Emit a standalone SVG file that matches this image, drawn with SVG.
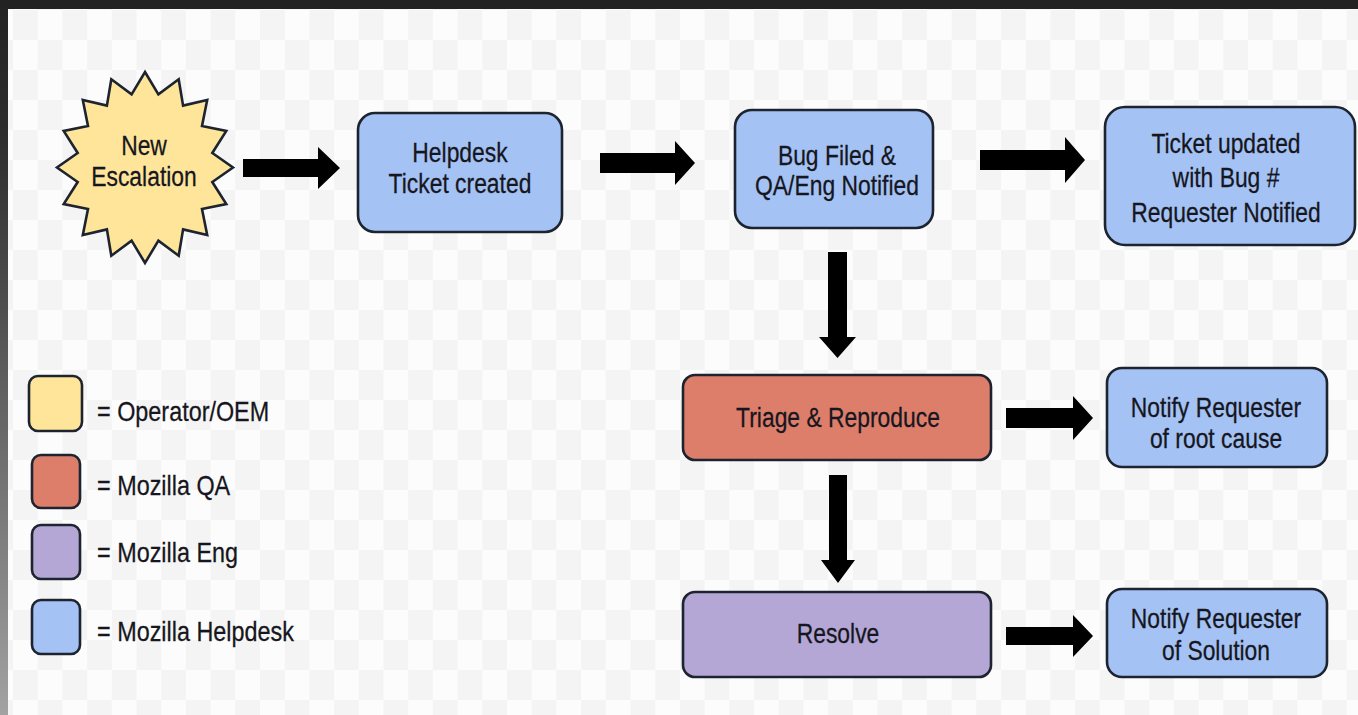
<svg xmlns="http://www.w3.org/2000/svg" width="1358" height="715" viewBox="0 0 1358 715">
<defs>
<pattern id="checker" patternUnits="userSpaceOnUse" x="13" y="10" width="49.4" height="60">
<rect width="49.4" height="60" fill="#fcfcfc"/>
<rect width="24.7" height="30" fill="#f4f4f4"/>
<rect x="24.7" y="30" width="24.7" height="30" fill="#f4f4f4"/>
</pattern>
<linearGradient id="leftEdge" x1="0" y1="0" x2="0" y2="1">
<stop offset="0" stop-color="#222222"/>
<stop offset="0.2" stop-color="#2e2e2e"/>
<stop offset="1" stop-color="#a2a2a2"/>
</linearGradient>
</defs>
<style>
.box{stroke:#1d2430;stroke-width:2.6}
.blue{fill:#a4c2f4}
.yellow{fill:#ffe599}
.red{fill:#dd7e6b}
.purple{fill:#b4a7d6}
.arrow{fill:#000000}
text{font-family:"Liberation Sans",Arial,Helvetica,sans-serif;font-size:26px;fill:#161620;stroke:#161620;stroke-width:0.25}
.c{text-anchor:middle}
</style>
<rect width="1358" height="715" fill="url(#checker)"/>
<rect width="1358" height="9" fill="#222222"/>
<rect y="0" width="8" height="715" fill="url(#leftEdge)"/>

<g id="connectors">
<polygon class="arrow" points="243,159 318,159 318,147 340,168 318,189 318,177 243,177"/>
<polygon class="arrow" points="600,153 675,153 675,141 695,163 675,185 675,173 600,173"/>
<polygon class="arrow" points="980,150 1065,150 1065,137 1085,160 1065,183 1065,170 980,170"/>
<polygon class="arrow" points="828,252 847,252 847,337 856,337 837.5,358 819,337 828,337"/>
<polygon class="arrow" points="829,475 847,475 847,560 855,560 838,583 821,560 829,560"/>
<polygon class="arrow" points="1006,408 1073,408 1073,396 1093,418 1073,440 1073,428 1006,428"/>
<polygon class="arrow" points="1006,627 1073,627 1073,615 1093,636 1073,657 1073,645 1006,645"/>
</g>

<g id="new-escalation">
<polygon class="box yellow" stroke-linejoin="miter" points="145,72 158.4,94.4 178.7,79.3 183.1,105.6 207.2,100 202,126.1 226.3,131 212.3,153 233,167.5 212.3,182 226.3,204 202,208.9 207.2,235 183.1,229.4 178.7,255.7 158.4,240.6 145,263 131.6,240.6 111.3,255.7 106.9,229.4 82.8,235 88,208.9 63.7,204 77.7,182 57,167.5 77.7,153 63.7,131 88,126.1 82.8,100 106.9,105.6 111.3,79.3 131.6,94.4"/>
<text class="c" transform="translate(144 155) scale(0.88 1.05)"><tspan x="0">New</tspan><tspan x="0" dy="30">Escalation</tspan></text>
</g>

<g id="helpdesk-ticket">
<rect class="box blue" x="358" y="113" width="204" height="119" rx="17"/>
<text class="c" transform="translate(460 162) scale(0.88 1.05)"><tspan x="0">Helpdesk</tspan><tspan x="0" dy="30">Ticket created</tspan></text>
</g>

<g id="bug-filed">
<rect class="box blue" x="735" y="110" width="198" height="118" rx="17"/>
<text class="c" transform="translate(837 165) scale(0.88 1.05)"><tspan x="0">Bug Filed &amp;</tspan><tspan x="0" dy="29">QA/Eng Notified</tspan></text>
</g>

<g id="ticket-updated">
<rect class="box blue" x="1105" y="107" width="250" height="138" rx="20"/>
<text class="c" transform="translate(1226 153) scale(0.88 1.05)"><tspan x="0">Ticket updated</tspan><tspan x="0" dy="32.5">with Bug #</tspan><tspan x="0" dy="33">Requester Notified</tspan></text>
</g>

<g id="triage">
<rect class="box red" x="683" y="375" width="308" height="85" rx="12"/>
<text class="c" transform="translate(838 427) scale(0.88 1.05)">Triage &amp; Reproduce</text>
</g>

<g id="notify-root-cause">
<rect class="box blue" x="1107" y="368" width="220" height="99" rx="15"/>
<text class="c" transform="translate(1216 417) scale(0.88 1.05)"><tspan x="0">Notify Requester</tspan><tspan x="0" dy="29.5">of root cause</tspan></text>
</g>

<g id="resolve">
<rect class="box purple" x="683" y="592" width="308" height="85" rx="12"/>
<text class="c" transform="translate(838 643) scale(0.88 1.05)">Resolve</text>
</g>

<g id="notify-solution">
<rect class="box blue" x="1107" y="589" width="220" height="88" rx="15"/>
<text class="c" transform="translate(1216 628) scale(0.88 1.05)"><tspan x="0">Notify Requester</tspan><tspan x="0" dy="30.5">of Solution</tspan></text>
</g>

<g id="legend-operator">
<rect class="box yellow" x="29" y="376" width="53" height="55" rx="9"/>
<text transform="translate(97 421) scale(0.9 1.05)">= Operator/OEM</text>
</g>
<g id="legend-qa">
<rect class="box red" x="32" y="455" width="48" height="53" rx="9"/>
<text transform="translate(97 495) scale(0.9 1.05)">= Mozilla QA</text>
</g>
<g id="legend-eng">
<rect class="box purple" x="32" y="525" width="48" height="54" rx="9"/>
<text transform="translate(97 562) scale(0.9 1.05)">= Mozilla Eng</text>
</g>
<g id="legend-helpdesk">
<rect class="box blue" x="32" y="600" width="48" height="54" rx="9"/>
<text transform="translate(97 641) scale(0.9 1.05)">= Mozilla Helpdesk</text>
</g>
</svg>
